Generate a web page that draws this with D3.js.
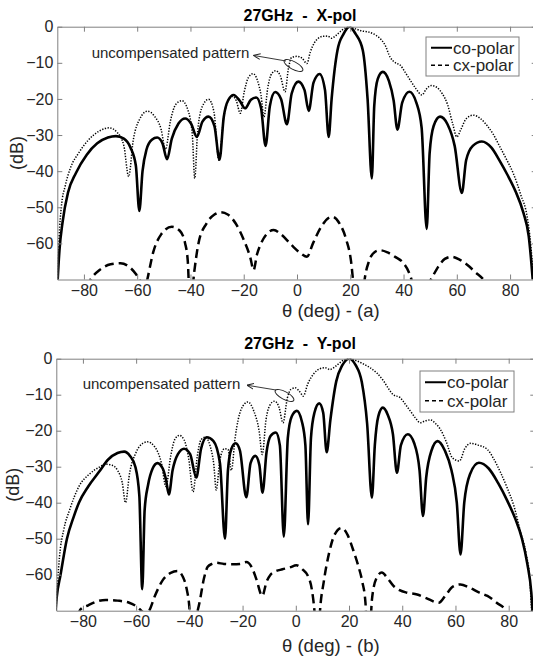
<!DOCTYPE html>
<html>
<head>
<meta charset="utf-8">
<script src="https://cdn.jsdelivr.net/npm/d3@7"></script>
<style>
  body { margin: 0; background: #fff; }
  text { font-family: "Liberation Sans", Arial, sans-serif; }
</style>
</head>
<body>
<div id="chart"></div>
<script>
// ---- data: [theta (deg), level (dB)] ----

// (a) X-pol
var xpolCo = [
  [-90, -72], [-89.2, -62], [-88, -54], [-86, -46], [-83, -40.5], [-79, -35.5], [-75, -32.3],
  [-71, -30.7], [-68, -30.3], [-65, -31], [-62.5, -33.5], [-60.5, -38.5], [-59.2, -51],
  [-58, -40], [-56.5, -34], [-54.5, -31.3], [-52.5, -30.7], [-50.5, -32.3], [-48.8, -36.7],
  [-47, -31], [-44.5, -26.8], [-42, -25.4], [-39.8, -26.8], [-37.6, -30.5], [-35.5, -26.3],
  [-33.2, -24.9], [-31, -27.5], [-29.1, -36.8], [-27.5, -25], [-25.8, -20.3], [-23.8, -18.9],
  [-21.5, -20.5], [-19.5, -22.6], [-17.3, -20.2], [-15.3, -19.6], [-13.5, -22.5], [-11.8, -33],
  [-10.2, -22], [-8.2, -18.1], [-6, -20], [-3.8, -27], [-2, -18.5], [0.5, -15.2], [2.8, -17.5],
  [4.4, -23.3], [6.2, -15.5], [8.5, -13.1], [10.5, -17.5], [11.9, -30.5], [13, -20],
  [15.2, -6.5], [17.5, -2], [19.7, 0], [22, -2], [24.7, -6.5], [26.5, -20], [28.1, -42],
  [29, -22], [30.3, -14.5], [32.2, -12.5], [34.5, -15], [36.3, -20.5], [37.7, -28.5],
  [39.5, -21], [42.2, -18], [44.8, -21], [46.8, -28], [48.7, -56], [49.8, -35], [51.3, -27.5],
  [53.7, -24.9], [56.5, -27], [59.2, -33], [61.9, -46], [63.5, -37], [66, -33], [69.4, -31.8],
  [73, -33.5], [76, -37], [79, -41], [82, -45.5], [85, -51.5], [87, -58], [88.5, -70], [89, -75]
];
var xpolUncomp = [
  [-90, -72], [-89.3, -58], [-88.5, -50], [-87, -44], [-85, -39], [-82, -35], [-78.5, -31.5],
  [-74, -28.8], [-70.5, -28], [-67.5, -29.3], [-65, -33], [-63.2, -41.5], [-61.5, -31.5],
  [-59, -25.5], [-56.2, -23.4], [-53.5, -24.8], [-51, -28.5], [-49.4, -34], [-47.5, -26],
  [-45.5, -21.5], [-43.2, -20.5], [-41, -23], [-39.3, -30], [-38.4, -42], [-37.3, -29],
  [-35.5, -22], [-33.2, -20.1], [-31.2, -23.5], [-29.3, -37], [-27.5, -25], [-25.8, -20.5],
  [-24.3, -19.3], [-22.8, -20.5], [-21.3, -24], [-19.8, -18], [-18.2, -14], [-16.5, -13],
  [-14.8, -15], [-13.5, -19], [-12.4, -25], [-11, -17], [-9.5, -13], [-8, -12.2], [-6.3, -13.5],
  [-4.5, -18], [-3.2, -11.5], [-2, -8.5], [0, -8.2], [2, -8.8], [3.7, -10.2], [5, -7],
  [6.5, -4.5], [8, -3.2], [9.5, -2.7], [11.5, -2.6], [13, -3.2], [14.5, -2.5], [16.5, -1.2],
  [18.5, -0.2], [19.7, 0], [22, -0.6], [24.5, -1.2], [27, -1.5], [29.5, -2.3], [31.5, -3.5],
  [33, -5], [35, -8.5], [37, -10], [38.7, -10.6], [40.5, -12.5], [42.5, -14.8], [44.5, -17],
  [46.9, -18.9], [48.5, -17.3], [50.5, -16.3], [52.5, -16.8], [54.5, -18.5], [56.5, -21.5],
  [58.5, -27], [60, -30.5], [61.5, -28.5], [63.5, -25.5], [66.2, -24.5], [69, -25.5],
  [71.5, -27.5], [73.7, -29.8], [76, -33], [78.5, -36.5], [81.2, -40.6], [84, -46.5],
  [86.5, -53], [87.7, -60], [88.7, -70], [89, -75]
];
var xpolCx = [
  [-79, -72], [-77.5, -70], [-74, -67.3], [-70, -65.8], [-66.3, -65.5], [-63, -66.5],
  [-60.5, -68.5], [-58.8, -70.5], [-57.5, -74], [-56.2, -70], [-54, -62.5], [-51, -57.5],
  [-47, -55.4], [-44, -56.5], [-42, -60], [-41, -65], [-40.3, -75], [-39.7, -75], [-38.6, -68],
  [-37, -60], [-34, -54.5], [-31, -52], [-28.8, -51.4], [-26, -52], [-23, -54.5], [-20, -59],
  [-17.5, -64], [-16.3, -67.4], [-15, -63], [-13.8, -60.5], [-11.5, -57.5], [-8.75, -56.3],
  [-6, -57.5], [-2, -60.5], [1.5, -62.8], [3.75, -63.7], [6, -60], [9, -55.5], [13.1, -52.6],
  [16, -54.5], [18.5, -59], [20.3, -65], [21.3, -72], [22, -76], [24.5, -76], [25.4, -70],
  [27, -65], [29, -62.5], [31.2, -61.9], [34, -62.5], [37, -63.8], [40, -65.5], [42, -68],
  [43.3, -71], [44, -74], [46.5, -78], [49.5, -71], [50.3, -70], [53, -66.5], [55.5, -64.3],
  [58.1, -63.7], [61, -64.5], [64, -66], [67, -68], [70, -70], [72, -72]
];

// (b) Y-pol
var ypolCo = [
  [-90.5, -72], [-89.8, -66], [-88.4, -60], [-86, -50], [-83.5, -44], [-81.5, -40], [-78, -35.5],
  [-74, -31.5], [-70.5, -28], [-67, -26.2], [-64.5, -25.8], [-62.3, -27], [-60.3, -30],
  [-58.8, -38], [-57.7, -64], [-56.8, -42], [-55.5, -35], [-53.8, -30.5], [-52, -29],
  [-50, -30.5], [-48.8, -33.5], [-47.7, -37.7], [-46.3, -31], [-44.3, -26.5], [-42, -25],
  [-39.7, -26.5], [-37.4, -33], [-35.6, -25], [-33.5, -21.8], [-31, -22.8], [-28.5, -29],
  [-26.6, -50], [-25.5, -31], [-24.2, -25], [-22.6, -23.5], [-21, -25.5], [-18.6, -38.5],
  [-17, -29], [-15.2, -27], [-13.7, -29.5], [-12.5, -37.2], [-11, -26], [-9.5, -21.5],
  [-7.5, -20.5], [-6, -24], [-4.5, -49.4], [-3, -22], [-1.5, -16], [0.4, -14.5], [2.3, -17.5],
  [3.6, -24], [4.6, -46], [5.7, -22], [7, -15], [8.8, -12.4], [10.3, -15], [11.6, -26],
  [13, -17], [15.2, -6.3], [17.5, -1.8], [20.1, 0], [22.5, -1.8], [24.8, -6.5], [26.8, -18],
  [28.6, -38.6], [29.7, -24], [31, -16], [32.7, -13.6], [34.5, -15.5], [36.5, -21], [38, -31.7],
  [39.5, -24], [42.1, -21], [44.5, -23.5], [46.5, -31], [47.8, -43.7], [49, -33], [51, -25.5],
  [53.3, -22.9], [56, -25.5], [58.5, -31], [60.5, -40], [61.9, -54.4], [63.3, -40], [65.5, -32],
  [68.8, -28.9], [72.5, -30.5], [76, -34.5], [79.5, -39.5], [82.5, -44.5], [85, -50], [87, -57],
  [88.5, -65], [89.2, -73]
];
var ypolUncomp = [
  [-90.3, -72], [-89.5, -62], [-88.8, -55], [-87.2, -47.5], [-85, -42], [-81.5, -35.5],
  [-77.5, -32], [-74, -30.2], [-71.5, -29.3], [-69, -29.6], [-67, -31], [-65.2, -34.5],
  [-64, -40], [-62.5, -32], [-60, -26], [-57.5, -23.5], [-55.7, -23.1], [-53, -24.5],
  [-50.5, -29], [-48.8, -35.5], [-47, -27], [-45.5, -22.5], [-43.8, -21.3], [-42, -22.5],
  [-40.2, -28], [-38.6, -37], [-37, -27], [-35.6, -22.5], [-34, -21.8], [-32.3, -24],
  [-30.8, -29.5], [-29.9, -36.5], [-28.5, -28], [-26.8, -25], [-25.5, -25.2], [-24.2, -31],
  [-22.8, -22], [-20.5, -14], [-18, -12], [-15.8, -14.5], [-13.8, -20], [-12.6, -26.6],
  [-11.2, -17], [-9.8, -13], [-8, -11.8], [-6.3, -13.5], [-4.8, -17.8], [-3.2, -11],
  [-1.8, -8.5], [-0.2, -8.1], [1.5, -9.2], [2.8, -10.4], [4.5, -7], [6.5, -4.4], [9, -2.8],
  [11, -2.5], [12.8, -3], [14.8, -2.2], [16.6, -1.1], [18.5, -0.2], [20.1, 0], [22.9, -0.6],
  [25.5, -1.5], [27.9, -2.5], [30.5, -4], [33, -6.2], [35, -8.5], [36.6, -10], [39.2, -10.8],
  [41, -12.5], [43, -14.5], [45, -16.5], [46.8, -17.8], [48.5, -17.3], [50.6, -17],
  [52.5, -18], [54.3, -19.6], [56.5, -23], [58.8, -27.5], [61.5, -28.4], [63.5, -25],
  [65.7, -23.5], [68.5, -24], [72, -25.2], [74.5, -28], [77, -31.7], [79.5, -36], [82, -41],
  [84.5, -48.3], [86.5, -54], [88, -62], [88.8, -73]
];
var ypolCx = [
  [-82, -71.5], [-80.9, -69.6], [-78, -68.5], [-75, -67.5], [-71.4, -67], [-67, -67.2],
  [-62.6, -67.8], [-59.5, -69], [-57.6, -70.3], [-56.5, -71], [-55.1, -70], [-53, -66],
  [-50, -61.5], [-47, -59.5], [-44.4, -59], [-42.5, -60.5], [-41, -64], [-40, -69],
  [-39.4, -76], [-38.5, -76], [-37.5, -72], [-36.2, -67.8], [-34.5, -61], [-33.1, -57.8],
  [-31.5, -57], [-29.9, -56.7], [-27, -57], [-23.6, -57.1], [-21, -57], [-18.6, -56.5],
  [-16.5, -58], [-14.8, -61.3], [-12.6, -65.9], [-11, -62], [-9.5, -60], [-8, -59.2],
  [-5, -58.5], [-2.3, -58], [0.25, -57.4], [2.5, -58.5], [4.6, -60.4], [6, -64], [7, -70],
  [7.6, -76], [8.6, -76], [9.1, -70], [10.5, -62], [12.5, -54], [14.5, -49], [17.2, -47],
  [19.5, -49], [21.5, -53], [23.5, -57.6], [25, -62], [26.2, -68], [26.7, -76], [27.8, -76],
  [28.6, -67], [30.3, -61], [32.3, -59.4], [34.5, -61], [36.7, -63.1], [39, -64.3],
  [41.8, -65], [45.6, -65.5], [49, -66.5], [53.7, -67.8], [56.5, -65.5], [59, -63.3],
  [61.9, -62.7], [65, -63.5], [69, -65], [72, -65.9], [75.5, -67.8], [78.9, -70], [80, -72]
];

var xTicks = [-80, -60, -40, -20, 0, 20, 40, 60, 80];
var yTicks = [-60, -50, -40, -30, -20, -10, 0];
var legendLabels = ['co-polar', 'cx-polar'];
var titles = ['27GHz  -  X-pol', '27GHz  -  Y-pol'];
var xLabels = ['\u03b8 (deg) - (a)', '\u03b8 (deg) - (b)'];
var noteText = 'uncompensated pattern';

// ---- layout ----
var width = 533, height = 656;

var panels = [
  { co: xpolCo, unc: xpolUncomp, cx: xpolCx,
    left: 57.3, right: 536.7, top: 26.7, bottom: 279.5,
    titleY: 20.7, xLabelX: 282, xLabelY: 316.5, yLabelX: 23,
    legend: { x: 426, y: 37, w: 93, h: 39 },
    note: { x: 91.7, y: 58, ax: 286, ay: 61, bx: 254, by: 55.5, ex: 293.5, ey: 65.5 } },
  { co: ypolCo, unc: ypolUncomp, cx: ypolCx,
    left: 56.3, right: 535.3, top: 358.7, bottom: 610.7,
    titleY: 349.3, xLabelX: 282, xLabelY: 651.5, yLabelX: 19,
    legend: { x: 420, y: 371, w: 94, h: 41 },
    note: { x: 82.7, y: 389, ax: 276, ay: 390, bx: 247.5, by: 385.3, ex: 284.5, ey: 395.5 } }
];

var svg = d3.select('#chart').append('svg')
  .attr('width', width)
  .attr('height', height);

var defs = svg.append('defs');
defs.append('marker')
  .attr('id', 'arrow')
  .attr('viewBox', '0 0 10 10')
  .attr('refX', 9).attr('refY', 5)
  .attr('markerWidth', 7).attr('markerHeight', 7)
  .attr('markerUnits', 'userSpaceOnUse')
  .attr('orient', 'auto')
  .append('path')
  .attr('d', 'M0,1L10,5L0,9')
  .attr('fill', 'none')
  .attr('stroke', '#222')
  .attr('stroke-width', 1.4);

var frameColor = '#808080';
var textColor = '#262626';

panels.forEach(function (p, i) {
  var x = d3.scaleLinear().domain([-90, 90]).range([p.left, p.right]);
  var y = d3.scaleLinear().domain([-70, 0]).range([p.bottom, p.top]);

  var g = svg.append('g');

  defs.append('clipPath').attr('id', 'clip' + i)
    .append('rect')
    .attr('x', p.left).attr('y', p.top)
    .attr('width', p.right - p.left).attr('height', p.bottom - p.top);

  var line = d3.line()
    .x(function (d) { return x(d[0]); })
    .y(function (d) { return y(d[1]); })
    .curve(d3.curveMonotoneX);

  var plot = g.append('g').attr('clip-path', 'url(#clip' + i + ')');

  plot.append('path')
    .attr('d', line(p.unc))
    .attr('fill', 'none')
    .attr('stroke', '#000')
    .attr('stroke-width', 1.5)
    .attr('stroke-dasharray', '1.3,1.5');

  plot.append('path')
    .attr('d', line(p.cx))
    .attr('fill', 'none')
    .attr('stroke', '#000')
    .attr('stroke-width', 2.5)
    .attr('stroke-dasharray', '9,5');

  plot.append('path')
    .attr('d', line(p.co))
    .attr('fill', 'none')
    .attr('stroke', '#000')
    .attr('stroke-width', 2.6)
    .attr('stroke-linejoin', 'round');

  // axes, ticks pointing inward on all four sides
  var axB = g.append('g')
    .attr('transform', 'translate(0,' + p.bottom + ')')
    .call(d3.axisBottom(x).tickValues(xTicks).tickSizeInner(-5).tickSizeOuter(0).tickPadding(5));
  var axT = g.append('g')
    .attr('transform', 'translate(0,' + p.top + ')')
    .call(d3.axisTop(x).tickValues(xTicks).tickSizeInner(-5).tickSizeOuter(0).tickFormat(''));
  var axL = g.append('g')
    .attr('transform', 'translate(' + p.left + ',0)')
    .call(d3.axisLeft(y).tickValues(yTicks).tickSizeInner(-5).tickSizeOuter(0).tickPadding(4));
  var axR = g.append('g')
    .attr('transform', 'translate(' + p.right + ',0)')
    .call(d3.axisRight(y).tickValues(yTicks).tickSizeInner(-5).tickSizeOuter(0).tickFormat(''));

  [axB, axT, axL, axR].forEach(function (a) {
    a.selectAll('path, line').attr('stroke', frameColor).attr('stroke-width', 1);
    a.selectAll('text')
      .attr('fill', textColor)
      .style('font-size', '16px')
      .style('font-family', '"Liberation Sans", Arial, sans-serif');
  });

  // title
  g.append('text')
    .attr('x', 300).attr('y', p.titleY)
    .attr('text-anchor', 'middle')
    .style('font-size', '16px')
    .style('font-weight', 'bold')
    .style('white-space', 'pre')
    .text(titles[i]);

  // axis labels
  g.append('text')
    .attr('x', p.xLabelX).attr('y', p.xLabelY)
    .attr('fill', textColor)
    .style('font-size', '18.5px')
    .text(xLabels[i]);

  g.append('text')
    .attr('transform', 'translate(' + p.yLabelX + ',' + ((p.top + p.bottom) / 2) + ') rotate(-90)')
    .attr('text-anchor', 'middle')
    .attr('fill', textColor)
    .style('font-size', '18px')
    .text('(dB)');

  // legend
  var lg = g.append('g').attr('transform', 'translate(' + p.legend.x + ',' + p.legend.y + ')');
  lg.append('rect')
    .attr('width', p.legend.w).attr('height', p.legend.h)
    .attr('fill', '#fff')
    .attr('stroke', frameColor);
  var rowH = p.legend.h / 2;
  legendLabels.forEach(function (lab, k) {
    var cy = rowH * (k + 0.5) + (k === 0 ? 1 : -1);
    lg.append('line')
      .attr('x1', 5).attr('x2', 26)
      .attr('y1', cy).attr('y2', cy)
      .attr('stroke', '#000')
      .attr('stroke-width', k === 0 ? 2 : 1.6)
      .attr('stroke-dasharray', k === 0 ? null : '4,3');
    lg.append('text')
      .attr('x', 27).attr('y', cy)
      .attr('dy', '0.35em')
      .attr('fill', textColor)
      .style('font-size', '17px')
      .text(lab);
  });

  // annotation
  var n = p.note;
  g.append('text')
    .attr('x', n.x).attr('y', n.y)
    .attr('fill', textColor)
    .style('font-size', '15px')
    .text(noteText);
  g.append('line')
    .attr('x1', n.ax).attr('y1', n.ay)
    .attr('x2', n.bx).attr('y2', n.by)
    .attr('stroke', '#222')
    .attr('stroke-width', 0.9)
    .attr('marker-end', 'url(#arrow)');
  g.append('ellipse')
    .attr('cx', n.ex).attr('cy', n.ey)
    .attr('rx', 10.5).attr('ry', 3.8)
    .attr('transform', 'rotate(28,' + n.ex + ',' + n.ey + ')')
    .attr('fill', 'none')
    .attr('stroke', '#222')
    .attr('stroke-width', 0.9);
});
</script>
</body>
</html>
